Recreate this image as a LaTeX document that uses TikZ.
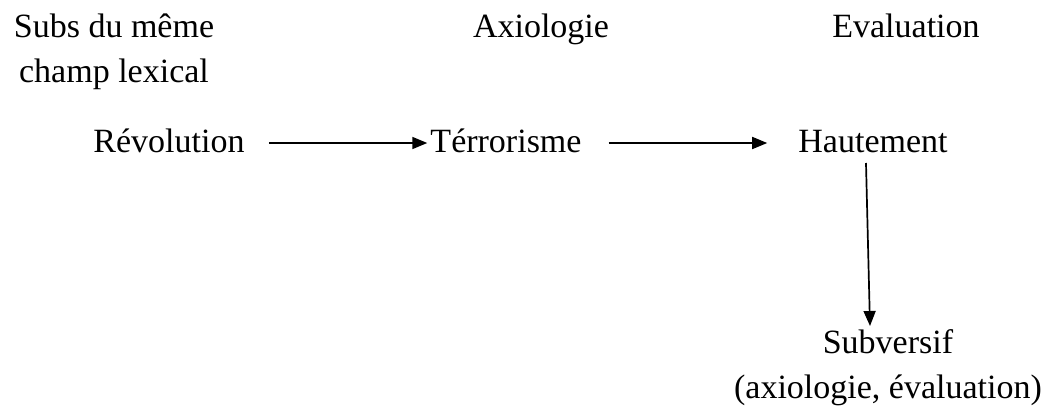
\documentclass[tikz,border=0pt]{standalone}
\usepackage{fontspec}
\setmainfont{Liberation Serif}
\usetikzlibrary{arrows.meta}
\begin{document}
\begin{tikzpicture}[x=1pt,y=-1pt,
  lbl/.style={anchor=base,inner sep=0pt,font=\fontsize{34}{45}\selectfont,align=center},
  arr/.style={line width=1.7pt,-{Triangle[length=15pt,width=12pt]}}]
\useasboundingbox (0,0) rectangle (1053,408);
% column headings (multi-line nodes sit on their last baseline)
\node[lbl] (h1) at (114,82) {Subs du même\\ champ lexical};
\node[lbl] (h2) at (541,37) {Axiologie};
\node[lbl] (h3) at (906,37) {Evaluation};
% chain of words
\node[lbl] (rev) at (169,152) {Révolution};
\node[lbl] (ter) at (506,152) {Térrorisme};
\node[lbl] (haut) at (873,152) {Hautement};
\node[lbl] (sub) at (888,398) {Subversif\\(axiologie, évaluation)};
% connectors
\draw[arr] ([shift={(24,-9)}]rev.base east) -- ([shift={(-3,-9)}]ter.base west);
\draw[arr] ([shift={(27,-9)}]ter.base east) -- ([shift={(-31,-9)}]haut.base west);
\coordinate (v1) at ([shift={(-7,11)}]haut.base);
\coordinate (v2) at ([shift={(-18,-72)}]sub.base);
\draw[arr] (v1) -- (v2);
\end{tikzpicture}
\end{document}
